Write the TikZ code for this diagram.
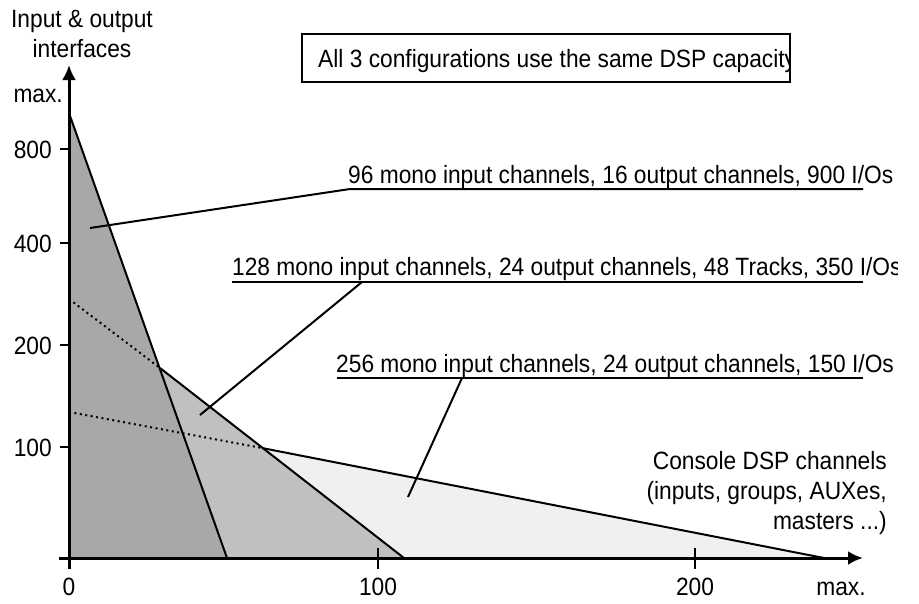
\documentclass[tikz,border=0pt]{standalone}
\usepackage{fontspec}
\setmainfont{Liberation Sans}[FakeStretch=0.91]
\usetikzlibrary{arrows.meta}
\definecolor{darkfill}{HTML}{A8A8A8}
\definecolor{midfill}{HTML}{C0C0C0}
\definecolor{lightfill}{HTML}{F0F0F0}
\begin{document}
\begin{tikzpicture}[x=1pt,y=-1pt, font=\fontsize{25}{30}\selectfont,
  axis/.style={line width=3pt},
  edge/.style={line width=2pt},
  dots/.style={line width=2pt, dash pattern=on 2pt off 3.5pt},
  callout/.style={line width=2pt},
  tickmark/.style={line width=2pt},
  lbl/.style={inner sep=0pt},
  tip/.style={-{Latex[length=15pt,width=14pt]}}
  ]
\useasboundingbox (0,0) rectangle (919,603);
% region corners
\coordinate (O) at (69,558);
\coordinate (Dtop) at (69,113);
\coordinate (Dbot) at (227,558);
\coordinate (Mtop) at (69,299);
\coordinate (Mknee) at (160,368);
\coordinate (Mbot) at (404,558);
\coordinate (Ltop) at (69,412);
\coordinate (Lknee) at (262,448);
\coordinate (Lbot) at (824,558);
\fill[lightfill] (O) -- (Ltop) -- (Lknee) -- (Lbot) -- cycle;
\fill[midfill] (O) -- (Mtop) -- (Mknee) -- (Mbot) -- cycle;
\fill[darkfill] (O) -- (Dtop) -- (Dbot) -- cycle;
\draw[dots] (Ltop) -- (Lknee);
\draw[edge] (Lknee) -- (Lbot);
\draw[dots] (Mtop) -- (Mknee);
\draw[edge] (Mknee) -- (Mbot);
\draw[edge] (Dtop) -- (Dbot);
% axes
\coordinate (xs) at (59,558);
\coordinate (xe) at (863,558);
\coordinate (ys) at (69,569);
\coordinate (ye) at (69,65);
\draw[axis,tip] (xs) -- (xe);
\draw[axis,tip] (ys) -- (ye);
% y ticks
\foreach \yy/\nm in {149/a,243/b,345/c,447/d}{
  \coordinate (yt\nm l) at (60,\yy);
  \coordinate (yt\nm r) at (69,\yy);
  \draw[tickmark] (yt\nm l) -- (yt\nm r);
}
% x ticks
\foreach \xx/\nm in {378/a,695/b}{
  \coordinate (xt\nm t) at (\xx,548);
  \coordinate (xt\nm b) at (\xx,569);
  \draw[tickmark] (xt\nm t) -- (xt\nm b);
}
% tick labels
\node[lbl,anchor=base east] (ymax) at (63,102) {max.};
\node[lbl,anchor=base east] (y800) at (52,158) {800};
\node[lbl,anchor=base east] (y400) at (52,252) {400};
\node[lbl,anchor=base east] (y200) at (52,354) {200};
\node[lbl,anchor=base east] (y100) at (52,456) {100};
\node[lbl,anchor=base] (x0) at (69,595) {0};
\node[lbl,anchor=base] (x100) at (378,595) {100};
\node[lbl,anchor=base] (x200) at (695,595) {200};
\node[lbl,anchor=base] (xmax) at (841,595) {max.};
% axis titles
\node[lbl,align=center,anchor=base] (ytitle) at (82,57) {Input \& output\\interfaces};
\node[lbl,align=right,anchor=base east] (xtitle) at (887,529) {Console DSP channels\\(inputs, groups, AUXes,\\masters ...)};
% header box
\begin{scope}
  \clip (302,34) rectangle (790,82);
  \node[lbl,anchor=base west] (boxtext) at (318,67) {All 3 configurations use the same DSP capacity};
\end{scope}
\draw[line width=2pt] (302,34) rectangle (790,82);
% callout labels
\begin{scope}
  \clip (0,0) rectangle (897,603);
  \node[lbl,anchor=base west] (t1) at (348,183) {96 mono input channels, 16 output channels, 900 I/Os};
  \node[lbl,anchor=base west] (t2) at (232,275) {128 mono input channels, 24 output channels, 48 Tracks, 350 I/Os};
  \node[lbl,anchor=base west] (t3) at (336,372) {256 mono input channels, 24 output channels, 150 I/Os};
\end{scope}
% callouts with underlines
\coordinate (c1p) at (90,228);
\coordinate (u1a) at (350,189);
\coordinate (u1b) at (863,189);
\draw[callout] (c1p) -- (u1a) -- (u1b);
\coordinate (c2p) at (200,415);
\coordinate (c2q) at (362,282);
\coordinate (u2a) at (232,282);
\coordinate (u2b) at (863,282);
\draw[callout] (u2a) -- (u2b);
\draw[callout] (c2p) -- (c2q);
\coordinate (c3p) at (408,497);
\coordinate (c3q) at (462,378);
\coordinate (u3a) at (337,378);
\coordinate (u3b) at (863,378);
\draw[callout] (u3a) -- (u3b);
\draw[callout] (c3p) -- (c3q);
\end{tikzpicture}
\end{document}
